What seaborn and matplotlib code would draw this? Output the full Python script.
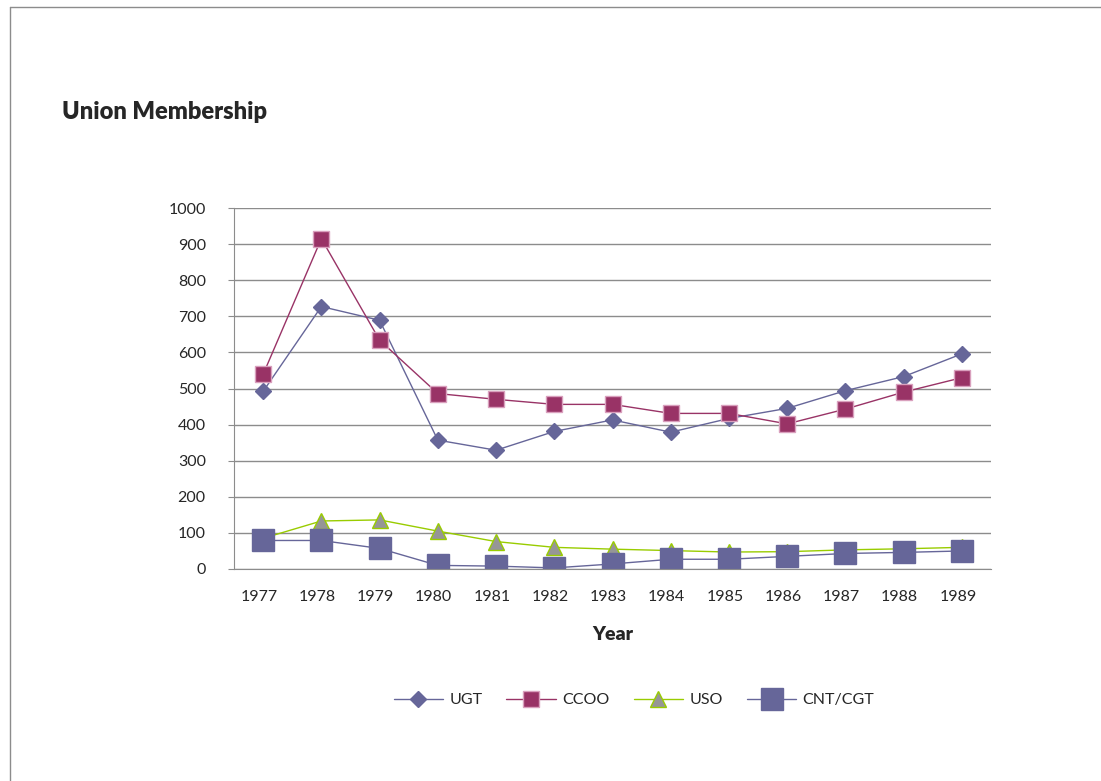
import matplotlib
matplotlib.use("Agg")
import matplotlib.pyplot as plt
import matplotlib.transforms as mtransforms
import numpy as np
import pandas as pd
import seaborn as sns
from matplotlib.lines import Line2D

years = [1977, 1978, 1979, 1980, 1981, 1982, 1983, 1984, 1985, 1986, 1987, 1988, 1989]
ugt = [492, 727, 689, 357, 329, 381, 413, 379, 417, 445, 494, 533, 596]
ccoo = [539, 915, 634, 486, 470, 456, 456, 431, 431, 402, 443, 490, 530]
uso = [85, 133, 136, 105, 76, 60, 55, 51, 47, 48, 53, 56, 60]
cnt = [79, 79, 57, 10, 8, 3, 14, 27, 27, 35, 43, 46, 50]

df = pd.DataFrame({"Year": years, "UGT": ugt, "CCOO": ccoo, "USO": uso, "CNT/CGT": cnt})

sns.set_style("white")
plt.rcParams['font.family'] = ['Lato', 'DejaVu Sans']

fig = plt.figure(figsize=(11.01, 7.81), dpi=100)
ax = fig.add_axes([234/1101, 1-569/781, (991-234)/1101, (569-208)/781])

estilos = {
    "UGT": dict(color="#666699", marker="D", markersize=8.5, mfc="#666699", mec="#666699"),
    "CCOO": dict(color="#993366", marker="s", markersize=11, mfc="#993366", mec="#d9a0bd"),
    "USO": dict(color="#99cc00", marker="^", markersize=11, mfc="#969696", mec="#99cc00"),
    "CNT/CGT": dict(color="#666699", marker="s", markersize=16.5, mfc="#666699", mec="#666699"),
}
for serie, st in estilos.items():
    sns.lineplot(data=df, x="Year", y=serie, ax=ax, label=serie, linewidth=1,
                 color=st["color"], marker=st["marker"], markersize=st["markersize"],
                 markerfacecolor=st["mfc"], markeredgecolor=st["mec"], markeredgewidth=1)

ax.set_xlim(1976.5, 1989.5)
ax.set_ylim(0, 1000)
ax.set_yticks(np.arange(0, 1001, 100))
ax.set_xticks(years)
ax.set_xticklabels([str(y) for y in years])
ax.yaxis.grid(True, color="#8c8c8c", linewidth=1)
ax.xaxis.grid(False)
ax.set_axisbelow(True)
for s in ["top", "right"]:
    ax.spines[s].set_visible(False)
ax.spines["left"].set_color("#8c8c8c")
ax.spines["bottom"].set_color("#8c8c8c")
ax.tick_params(axis="y", direction="out", length=4.3, color="#8c8c8c", labelsize=11.5, pad=16, left=True)
ax.tick_params(axis="x", length=0, labelsize=11.5, pad=15)
# etiquetas del eje x un poco a la izquierda, como en el original
desplaza = mtransforms.ScaledTranslation(-4/100, 0, fig.dpi_scale_trans)
for lab in ax.get_xticklabels():
    lab.set_transform(lab.get_transform() + desplaza)
ax.set_ylabel("")
ax.set_xlabel("Year", fontsize=14, fontweight="heavy", labelpad=16)

fig.text(62/1101, 1-112/781, "Union Membership", fontsize=17, fontweight="heavy", va="center", ha="left")

ax.get_legend().remove()
fig.legend(*ax.get_legend_handles_labels(), loc="center", bbox_to_anchor=(634/1101, 1-700/781),
           ncol=4, frameon=False, fontsize=11.5, handlelength=3.1, handletextpad=0.4, columnspacing=1.5)

# marco del grafico
fig.add_artist(Line2D([10/1101, 1], [1-7/781, 1-7/781], color="#8c8c8c", linewidth=1, transform=fig.transFigure))
fig.add_artist(Line2D([10/1101, 10/1101], [0, 1-7/781], color="#8c8c8c", linewidth=1, transform=fig.transFigure))

fig.savefig("out.png", dpi=100)
